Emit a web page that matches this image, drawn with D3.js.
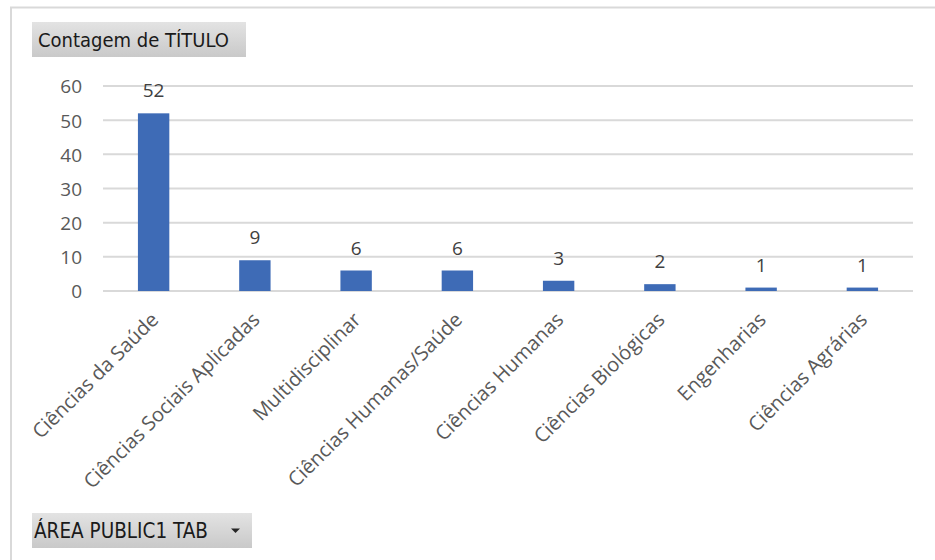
<!DOCTYPE html>
<html>
<head>
<meta charset="utf-8">
<script src="https://cdn.jsdelivr.net/npm/d3@7"></script>
<style>
  html, body { margin: 0; padding: 0; background: #fff; }
  svg { display: block; }
</style>
</head>
<body>
<svg id="chart" width="935" height="560"></svg>
<script>
// Contagem de TÍTULO por área
const categories = [
  "Ciências da Saúde",
  "Ciências Sociais Aplicadas",
  "Multidisciplinar",
  "Ciências Humanas/Saúde",
  "Ciências Humanas",
  "Ciências Biológicas",
  "Engenharias",
  "Ciências Agrárias"
];
const counts = [52, 9, 6, 6, 3, 2, 1, 1];
const yTicks = [0, 10, 20, 30, 40, 50, 60];

const svg = d3.select("#chart");
const font = "'Open Sans', 'Noto Sans', sans-serif";

// outer frame
svg.append("path")
  .attr("d", "M11,560 L11,7.5 L935,7.5")
  .attr("fill", "none")
  .attr("stroke", "#d9d9d9")
  .attr("stroke-width", 2);

const x = d3.scaleBand().domain(categories).range([103, 913]).paddingInner(0.69).paddingOuter(0.345);
const y = d3.scaleLinear().domain([0, 60]).range([291, 86]);

// gridlines
svg.append("g").selectAll("line").data(yTicks).join("line")
  .attr("x1", 103).attr("x2", 913)
  .attr("y1", d => y(d)).attr("y2", d => y(d))
  .attr("stroke", "#d9d9d9").attr("stroke-width", 2);

// y axis labels
const yAxis = d3.axisLeft(y).tickValues(yTicks).tickSize(0).tickPadding(0);
const gy = svg.append("g").attr("transform", "translate(82,0)").call(yAxis);
gy.select(".domain").remove();
gy.selectAll("text")
  .attr("font-family", font).attr("font-size", 19).attr("fill", "#595959")
  .attr("dy", "0.36em");

// bars
svg.append("g").selectAll("rect").data(counts).join("rect")
  .attr("x", (d, i) => x(categories[i]))
  .attr("width", x.bandwidth())
  .attr("y", d => y(d))
  .attr("height", d => y(0) - y(d))
  .attr("fill", "#3e6bb6");

// value labels
svg.append("g").selectAll("text").data(counts).join("text")
  .attr("x", (d, i) => x(categories[i]) + x.bandwidth() / 2)
  .attr("y", d => y(d) - 16)
  .attr("text-anchor", "middle")
  .attr("font-family", font).attr("font-size", 19).attr("fill", "#404040")
  .text(d => d);

// category labels
const xAxis = d3.axisBottom(x).tickSize(0).tickPadding(0);
const gx = svg.append("g").attr("transform", "translate(0,291)").call(xAxis);
gx.select(".domain").remove();
gx.selectAll("text")
  .attr("font-family", font).attr("font-size", 20).attr("fill", "#595959")
  .attr("text-anchor", "end")
  .attr("dy", 0)
  .attr("transform", "translate(6,30) rotate(-45)");

// field buttons
function button(x0, y0, w, h, label, arrow, tx, fs) {
  const g = svg.append("g").attr("transform", `translate(${x0},${y0})`);
  g.append("rect").attr("width", w).attr("height", h).attr("fill", "url(#btnGrad)");
  g.append("text").attr("x", tx).attr("y", h / 2).attr("dy", "0.35em")
    .attr("font-family", "'DejaVu Sans Condensed', 'DejaVu Sans', sans-serif")
    .attr("font-size", fs).attr("fill", "#1a1a1a").text(label);
  if (arrow) {
    g.append("path").attr("d", `M${w - 21},${h / 2 - 2} l9,0 l-4.5,4.5 z`).attr("fill", "#262626");
  }
}
const defs = svg.append("defs");
const grad = defs.append("linearGradient").attr("id", "btnGrad").attr("x1", 0).attr("x2", 0).attr("y1", 0).attr("y2", 1);
grad.append("stop").attr("offset", "0%").attr("stop-color", "#e3e3e3");
grad.append("stop").attr("offset", "100%").attr("stop-color", "#c9c9c9");

button(32, 22, 214, 35, "Contagem de TÍTULO", false, 6, 20);
button(32, 513, 220, 35, "ÁREA PUBLIC1 TAB", true, 2, 20.5);
</script>
</body>
</html>
